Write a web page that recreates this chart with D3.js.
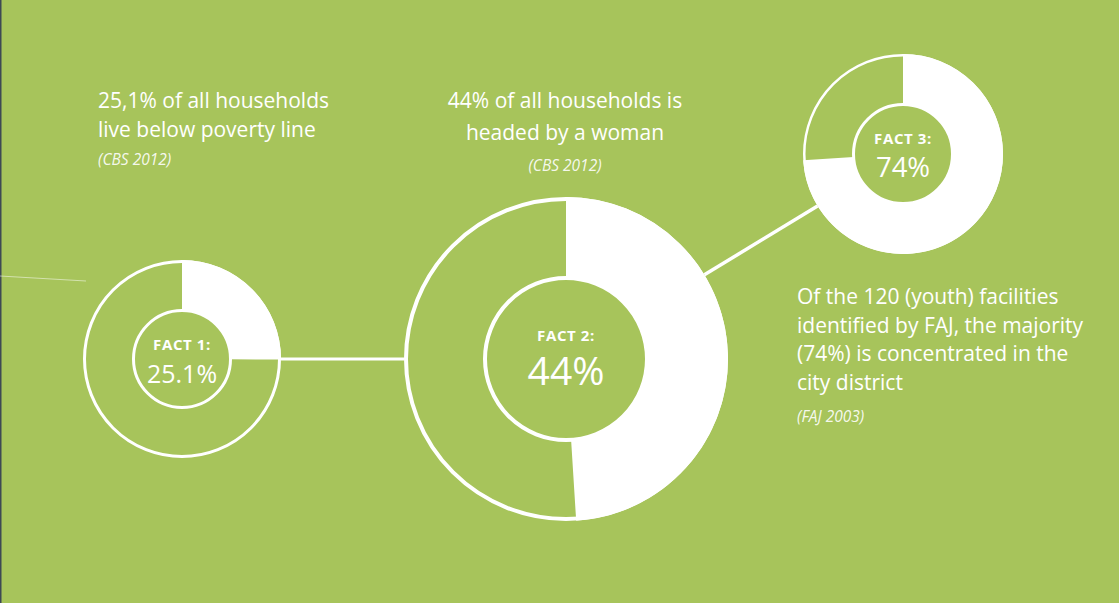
<!DOCTYPE html>
<html>
<head>
<meta charset="utf-8">
<script src="https://cdn.jsdelivr.net/npm/d3@7"></script>
<style>
  html, body { margin: 0; padding: 0; background: #a7c45b; overflow: hidden; }
  svg { display: block; }
  text { fill: #ffffff; font-family: "Open Sans", "Noto Sans", sans-serif; }
</style>
</head>
<body>
<svg id="chart" width="1119" height="603"></svg>
<script>
// ---- data ----
const factTitles   = ["FACT 1:", "FACT 2:", "FACT 3:"];
const valueLabels  = ["25.1%", "44%", "74%"];
// share of the ring that is drawn white (as it appears in the picture)
const arcShares    = [0.251, 0.49, 0.74];
const descriptions = [
  ["25,1% of all households", "live below poverty line"],
  ["44% of all households is", "headed by a woman"],
  ["Of the 120 (youth) facilities", "identified by FAJ, the majority", "(74%) is concentrated in the", "city district"]
];
const sources = ["(CBS 2012)", "(CBS 2012)", "(FAJ 2003)"];

// ---- layout (not data) ----
const W = 1119, H = 603;
const layout = [
  { cx: 182, cy: 359, R: 99,  r: 50, ring: 3,   inner: 3,   titleY: 350, valY: 383, valSize: 25,
    text: { x: 98, anchor: "start", y0: 108, dy: 28.5, srcY: 165 } },
  { cx: 566, cy: 359, R: 162, r: 83, ring: 4,   inner: 4,   titleY: 341, valY: 385, valSize: 39,
    text: { x: 565, anchor: "middle", y0: 108, dy: 31.5, srcY: 171 } },
  { cx: 903, cy: 154, R: 100, r: 51, ring: 2.5, inner: 3,   titleY: 144, valY: 177, valSize: 27.5,
    text: { x: 797, anchor: "start", y0: 304, dy: 28.6, srcY: 422 } }
];

const svg = d3.select("#chart");
svg.append("rect").attr("width", W).attr("height", H).attr("fill", "#a7c45b");
// dark strip on the far left edge
svg.append("rect").attr("x", 0).attr("y", 0).attr("width", 1.5).attr("height", H).attr("fill", "#3e4954");

// faint line coming in from the left
svg.append("line")
  .attr("x1", 0).attr("y1", 276).attr("x2", 86).attr("y2", 281)
  .attr("stroke", "#ffffff").attr("stroke-opacity", 0.5).attr("stroke-width", 1);

// connectors between donuts (edge to edge on the line joining centers)
function connect(a, b, w) {
  const dx = b.cx - a.cx, dy = b.cy - a.cy, L = Math.hypot(dx, dy);
  const ux = dx / L, uy = dy / L;
  svg.append("line")
    .attr("x1", a.cx + ux * a.R).attr("y1", a.cy + uy * a.R)
    .attr("x2", b.cx - ux * b.R).attr("y2", b.cy - uy * b.R)
    .attr("stroke", "#ffffff").attr("stroke-width", w);
}
connect(layout[0], layout[1], 3);
connect(layout[1], layout[2], 3.5);

const pie = d3.pie().sort(null).value(d => d);

layout.forEach((L, i) => {
  const g = svg.append("g").attr("transform", `translate(${L.cx},${L.cy})`);
  // outer outline
  g.append("circle").attr("r", L.R - L.ring / 2)
    .attr("fill", "none").attr("stroke", "#ffffff").attr("stroke-width", L.ring);
  // white share
  const arcs = pie([arcShares[i], 1 - arcShares[i]]);
  const arc = d3.arc().innerRadius(L.r - L.inner / 2).outerRadius(L.R);
  g.append("path").attr("d", arc(arcs[0])).attr("fill", "#ffffff");
  // inner circle
  g.append("circle").attr("r", L.r - L.inner / 2)
    .attr("fill", "#a7c45b").attr("stroke", "#ffffff").attr("stroke-width", L.inner);
  // center labels
  svg.append("text").attr("x", L.cx).attr("y", L.titleY)
    .attr("text-anchor", "middle").attr("font-weight", 700)
    .attr("font-size", 15).attr("letter-spacing", 0.6)
    .text(factTitles[i]);
  svg.append("text").attr("x", L.cx).attr("y", L.valY)
    .attr("text-anchor", "middle").attr("font-weight", 400)
    .attr("font-size", L.valSize)
    .text(valueLabels[i]);
  // description
  const t = L.text;
  descriptions[i].forEach((line, j) => {
    svg.append("text").attr("x", t.x).attr("y", t.y0 + j * t.dy)
      .attr("text-anchor", t.anchor).attr("font-size", 21)
      .text(line);
  });
  svg.append("text").attr("x", t.x).attr("y", t.srcY)
    .attr("text-anchor", t.anchor).attr("font-size", 15.5)
    .attr("font-style", "italic").attr("fill-opacity", 0.9)
    .text(sources[i]);
});
</script>
</body>
</html>
